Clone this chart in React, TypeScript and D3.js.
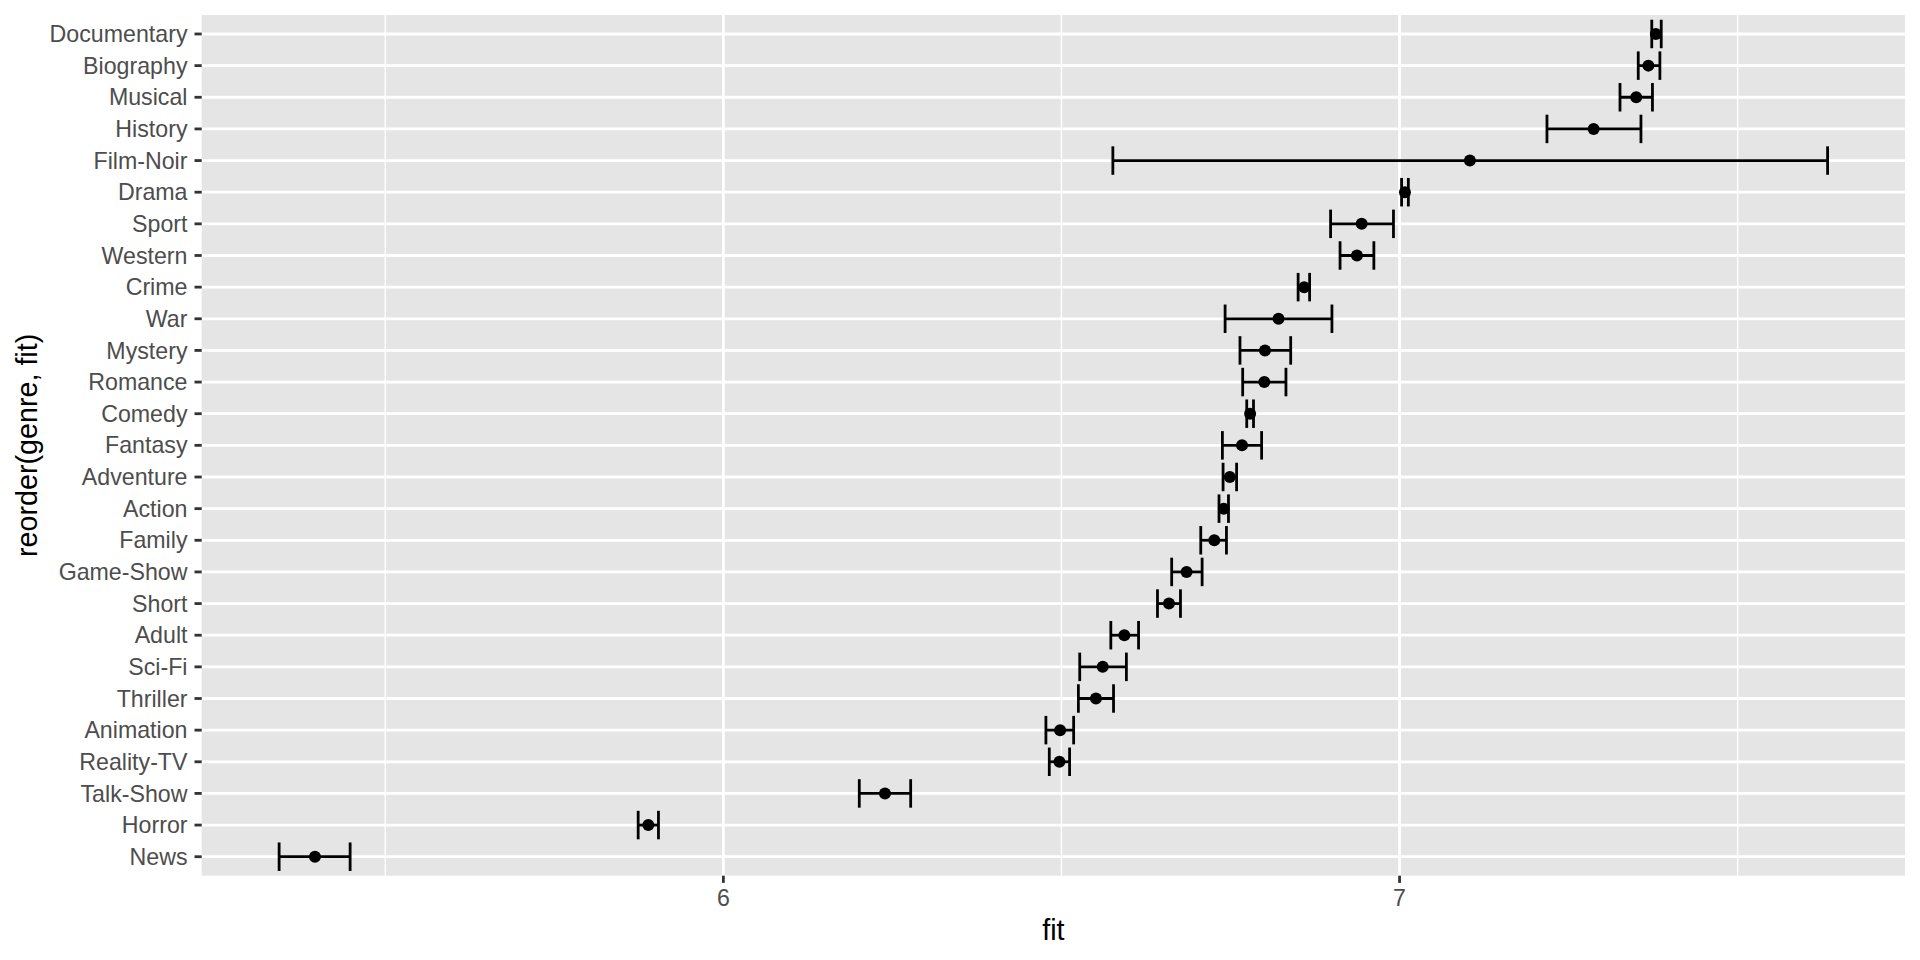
import React from "react";
import * as d3 from "d3";

const genres = [
  "Documentary", "Biography", "Musical", "History", "Film-Noir", "Drama", "Sport",
  "Western", "Crime", "War", "Mystery", "Romance", "Comedy", "Fantasy", "Adventure",
  "Action", "Family", "Game-Show", "Short", "Adult", "Sci-Fi", "Thriller", "Animation",
  "Reality-TV", "Talk-Show", "Horror", "News",
];
const fitValues = [
  7.379, 7.368, 7.350, 7.287, 7.104, 7.008, 6.944,
  6.937, 6.859, 6.821, 6.801, 6.800, 6.779, 6.767, 6.749,
  6.740, 6.726, 6.685, 6.659, 6.593, 6.561, 6.551, 6.498,
  6.497, 6.239, 5.889, 5.396,
];
const lowerValues = [
  7.373, 7.353, 7.326, 7.218, 6.576, 7.003, 6.898,
  6.912, 6.850, 6.742, 6.764, 6.768, 6.774, 6.738, 6.739,
  6.733, 6.706, 6.663, 6.642, 6.573, 6.527, 6.525, 6.477,
  6.482, 6.201, 5.874, 5.343,
];
const upperValues = [
  7.387, 7.385, 7.374, 7.357, 7.633, 7.013, 6.991,
  6.962, 6.867, 6.900, 6.839, 6.832, 6.784, 6.796, 6.759,
  6.747, 6.744, 6.708, 6.676, 6.614, 6.596, 6.577, 6.518,
  6.512, 6.277, 5.904, 5.448,
];
const majorTicks = [6, 7];
const minorTicks = [5.5, 6.5, 7.5];
const xTitle = "fit";
const yTitle = "reorder(genre, fit)";

const W = 1920;
const H = 960;
const panel = { left: 201.7, right: 1905, top: 15, bottom: 875.7 };
const font = "'Liberation Sans', Arial, Helvetica, sans-serif";

export default function App() {
  const lo = d3.min(lowerValues) as number;
  const hi = d3.max(upperValues) as number;
  const pad = (hi - lo) * 0.05;
  const x = d3.scaleLinear().domain([lo - pad, hi + pad]).range([panel.left, panel.right]);
  const y = d3.scalePoint<string>().domain(genres).range([panel.top, panel.bottom]).padding(0.6);
  const step = y.step();
  const capHalf = step * 0.45;
  const pw = panel.right - panel.left;
  const ph = panel.bottom - panel.top;

  return (
    <svg width={W} height={H} style={{ position: "absolute", left: 0, top: 0, background: "#fff" }}>
      <rect x={panel.left} y={panel.top} width={pw} height={ph} fill="#E5E5E5" />
      {minorTicks.map((t) => (
        <line key={"mn" + t} x1={x(t)} x2={x(t)} y1={panel.top} y2={panel.bottom} stroke="#fff" strokeWidth={1.4} />
      ))}
      {majorTicks.map((t) => (
        <line key={"mj" + t} x1={x(t)} x2={x(t)} y1={panel.top} y2={panel.bottom} stroke="#fff" strokeWidth={2.8} />
      ))}
      {genres.map((g) => (
        <line key={"hg" + g} x1={panel.left} x2={panel.right} y1={y(g)} y2={y(g)} stroke="#fff" strokeWidth={2.8} />
      ))}
      {genres.map((g, i) => {
        const cy = y(g) as number;
        const x0 = x(lowerValues[i]);
        const x1 = x(upperValues[i]);
        return (
          <g key={"eb" + g} stroke="#000" strokeWidth={2.8} fill="none">
            <line x1={x0} x2={x1} y1={cy} y2={cy} />
            <line x1={x0} x2={x0} y1={cy - capHalf} y2={cy + capHalf} />
            <line x1={x1} x2={x1} y1={cy - capHalf} y2={cy + capHalf} />
          </g>
        );
      })}
      {genres.map((g, i) => (
        <circle key={"pt" + g} cx={x(fitValues[i])} cy={y(g)} r={6} fill="#000" />
      ))}
      {genres.map((g) => (
        <g key={"yt" + g}>
          <line x1={panel.left - 7.2} x2={panel.left} y1={y(g)} y2={y(g)} stroke="#333" strokeWidth={2.8} />
          <text x={panel.left - 14.2} y={y(g)} dy="0.35em" textAnchor="end" fontFamily={font} fontSize={23.2} fill="#4D4D4D">
            {g}
          </text>
        </g>
      ))}
      {majorTicks.map((t) => (
        <g key={"xt" + t}>
          <line x1={x(t)} x2={x(t)} y1={panel.bottom} y2={panel.bottom + 7.2} stroke="#333" strokeWidth={2.8} />
          <text x={x(t)} y={906} textAnchor="middle" fontFamily={font} fontSize={23.2} fill="#4D4D4D">
            {t}
          </text>
        </g>
      ))}
      <text x={(panel.left + panel.right) / 2} y={940} textAnchor="middle" fontFamily={font} fontSize={28.7} fill="#000">
        {xTitle}
      </text>
      <text
        transform={`translate(37, ${(panel.top + panel.bottom) / 2}) rotate(-90)`}
        textAnchor="middle"
        fontFamily={font}
        fontSize={28.7}
        fill="#000"
      >
        {yTitle}
      </text>
    </svg>
  );
}
